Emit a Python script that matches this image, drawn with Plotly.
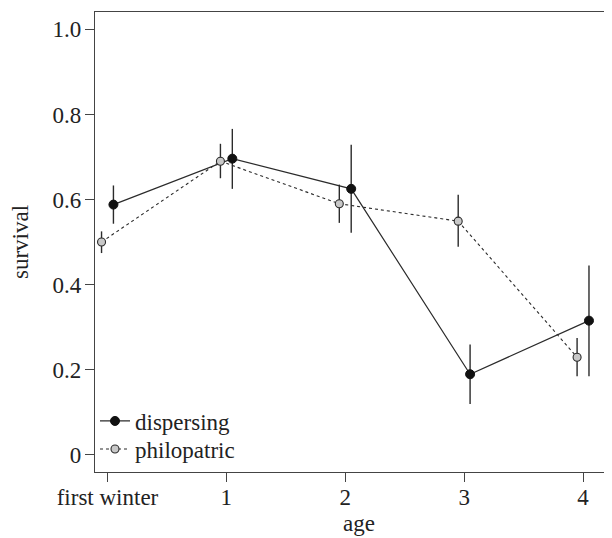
import plotly.graph_objects as go

ages = [0, 1, 2, 3, 4]
age_labels = ["first winter", "1", "2", "3", "4"]

disp_surv = [0.588, 0.696, 0.625, 0.189, 0.315]
disp_upper = [0.633, 0.766, 0.729, 0.259, 0.445]
disp_lower = [0.543, 0.625, 0.522, 0.119, 0.184]

phil_surv = [0.500, 0.690, 0.590, 0.549, 0.229]
phil_upper = [0.525, 0.731, 0.635, 0.611, 0.274]
phil_lower = [0.474, 0.650, 0.545, 0.489, 0.184]

y_ticks = [0, 0.2, 0.4, 0.6, 0.8, 1.0]
y_tick_labels = ["0", "0.2", "0.4", "0.6", "0.8", "1.0"]

offset = 0.05
FONT = "Liberation Serif, Times New Roman, serif"
INK = "#2b2b2b"
TXT = "#222222"
FS = 23

# page body adds an 8px margin, so the figure is sized to fit the window
W, H = 604, 530
ML, MR, MT, MB = 87, 4, 4, 66
PW, PH = W - ML - MR, H - MT - MB

fig = go.Figure()

fig.add_trace(go.Scatter(
    x=[a + offset for a in ages], y=disp_surv, name="dispersing",
    mode="lines+markers", legend="legend",
    line=dict(color=INK, width=1.2),
    marker=dict(symbol="circle", size=9, color="#111111", line=dict(color="#111111", width=1)),
    error_y=dict(type="data", symmetric=False,
                 array=[u - s for u, s in zip(disp_upper, disp_surv)],
                 arrayminus=[s - l for s, l in zip(disp_surv, disp_lower)],
                 width=0, thickness=1.4, color=INK),
))

fig.add_trace(go.Scatter(
    x=[a - offset for a in ages], y=phil_surv, name="philopatric",
    mode="lines+markers", legend="legend2",
    line=dict(color=INK, width=1.1, dash="3px,3px"),
    marker=dict(symbol="circle", size=8, color="#c8c8c8", line=dict(color=INK, width=1.1)),
    error_y=dict(type="data", symmetric=False,
                 array=[u - s for u, s in zip(phil_upper, phil_surv)],
                 arrayminus=[s - l for s, l in zip(phil_surv, phil_lower)],
                 width=0, thickness=1.4, color=INK),
))

leg_common = dict(x=0.0, xanchor="left", yanchor="middle",
                  bgcolor="rgba(0,0,0,0)", itemwidth=30,
                  font=dict(family=FONT, size=FS, color=TXT))

fig.update_layout(
    width=W, height=H,
    margin=dict(l=ML, r=MR, t=MT, b=MB, autoexpand=False),
    paper_bgcolor="white", plot_bgcolor="white",
    font=dict(family=FONT, size=FS, color=TXT),
    showlegend=True,
    legend=dict(y=(H - MB - 413) / PH, **leg_common),
    legend2=dict(y=(H - MB - 441) / PH, **leg_common),
    annotations=[
        dict(text="survival", xref="paper", yref="paper",
             x=(12 - ML) / PW, y=0.5, xanchor="center", yanchor="middle",
             textangle=-90, showarrow=False, font=dict(family=FONT, size=FS, color=TXT)),
        dict(text="age", xref="paper", yref="paper",
             x=(351 - ML) / PW, y=-(515 - MT - PH) / PH, xanchor="center", yanchor="middle",
             showarrow=False, font=dict(family=FONT, size=FS, color=TXT)),
    ],
)

fig.update_xaxes(
    range=[-0.105, 4.21], tickvals=ages, ticktext=age_labels,
    automargin=False,
    showgrid=False, zeroline=False,
    showline=True, mirror=True, linecolor="#444444", linewidth=1.3,
    ticks="outside", ticklen=9, tickwidth=1.1, tickcolor="#444444",
    ticklabelstandoff=-5,
    tickfont=dict(family=FONT, size=FS, color=TXT),
)
fig.update_yaxes(
    range=[-0.041, 1.041], tickvals=y_ticks, ticktext=y_tick_labels,
    automargin=False,
    showgrid=False, zeroline=False,
    showline=True, mirror=True, linecolor="#444444", linewidth=1.3,
    ticks="outside", ticklen=9, tickwidth=1.1, tickcolor="#444444",
    ticklabelstandoff=-1,
    tickfont=dict(family=FONT, size=FS, color=TXT),
)

fig.write_html("out.html")
